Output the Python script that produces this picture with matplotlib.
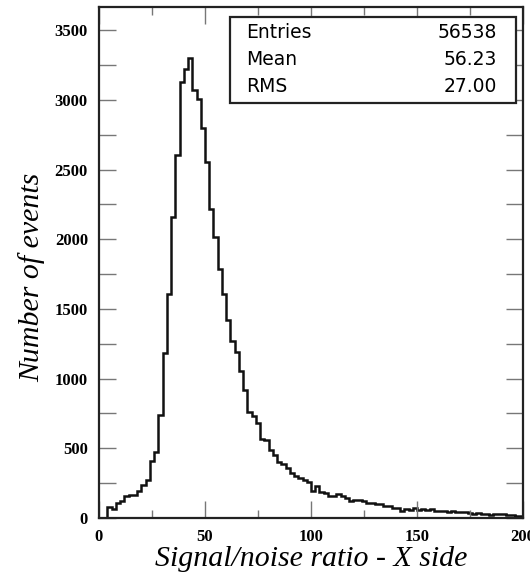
import numpy as np
import matplotlib.pyplot as plt
from matplotlib.ticker import MultipleLocator

# Histogram: 100 bins of width 2 from 0 to 200
bin_edges = np.arange(0, 202, 2)
counts = [
    0, 0, 77, 65, 105, 125, 155, 165, 165, 195,
    235, 275, 407, 471, 741, 1184, 1610, 2161, 2603, 3130,
    3219, 3297, 3070, 3003, 2798, 2557, 2219, 2015, 1788, 1610,
    1420, 1270, 1194, 1057, 918, 763, 734, 680, 570, 560,
    490, 450, 405, 390, 360, 320, 300, 285, 275, 255,
    195, 230, 190, 180, 155, 160, 172, 155, 145, 125,
    128, 132, 125, 110, 108, 104, 100, 88, 88, 72,
    72, 50, 68, 60, 74, 58, 66, 60, 62, 52,
    50, 52, 45, 48, 41, 44, 40, 36, 30, 35,
    30, 30, 24, 30, 32, 28, 22, 22, 12, 16,
]

stat_names = ['Entries', 'Mean', 'RMS']
stat_values = ['56538', '56.23', '27.00']

fig = plt.figure(figsize=(5.3, 5.77), dpi=100)
ax = fig.add_axes([99/530, 59/577, 424/530, 511/577])

ax.stairs(counts, bin_edges, color='#111111', linewidth=1.8, baseline=None)

ax.set_xlim(0, 200)
ax.set_ylim(0, 3666)

ax.xaxis.set_major_locator(MultipleLocator(50))
ax.xaxis.set_minor_locator(MultipleLocator(25))
ax.yaxis.set_major_locator(MultipleLocator(500))
ax.yaxis.set_minor_locator(MultipleLocator(250))

ax.tick_params(axis='both', which='both', direction='in', top=True, right=True,
               color='#777777', width=1.0)
ax.tick_params(axis='x', which='major', length=12)
ax.tick_params(axis='x', which='minor', length=6)
ax.tick_params(axis='y', which='both', length=12)
ax.tick_params(axis='y', which='major', pad=8)
ax.tick_params(axis='x', which='major', pad=8)

for lab in ax.get_xticklabels() + ax.get_yticklabels():
    lab.set_fontfamily('Liberation Serif')
    lab.set_fontweight('bold')
    lab.set_fontsize(12)

for sp in ax.spines.values():
    sp.set_linewidth(1.6)
    sp.set_color('#222222')

ax.set_xlabel('Signal/noise ratio - X side', fontfamily='Liberation Serif',
              style='italic', fontsize=21.5, labelpad=1)
ax.set_ylabel('Number of events', fontfamily='Liberation Serif',
              style='italic', fontsize=21.5)
ax.yaxis.set_label_coords(-0.128, 0.47)

# stats box
box = plt.Rectangle((0.309, 0.812), 0.675, 0.168, transform=ax.transAxes,
                    facecolor='white', edgecolor='#222222', linewidth=1.6, zorder=5)
ax.add_patch(box)
for i, (name, val) in enumerate(zip(stat_names, stat_values)):
    yy = 0.95 - i * 0.053
    ax.text(0.346, yy, name, transform=ax.transAxes, ha='left', va='center',
            fontsize=13.5, fontfamily='DejaVu Sans', zorder=6)
    ax.text(0.939, yy, val, transform=ax.transAxes, ha='right', va='center',
            fontsize=13.5, fontfamily='DejaVu Sans', zorder=6)

fig.savefig('out.png', dpi=100)
